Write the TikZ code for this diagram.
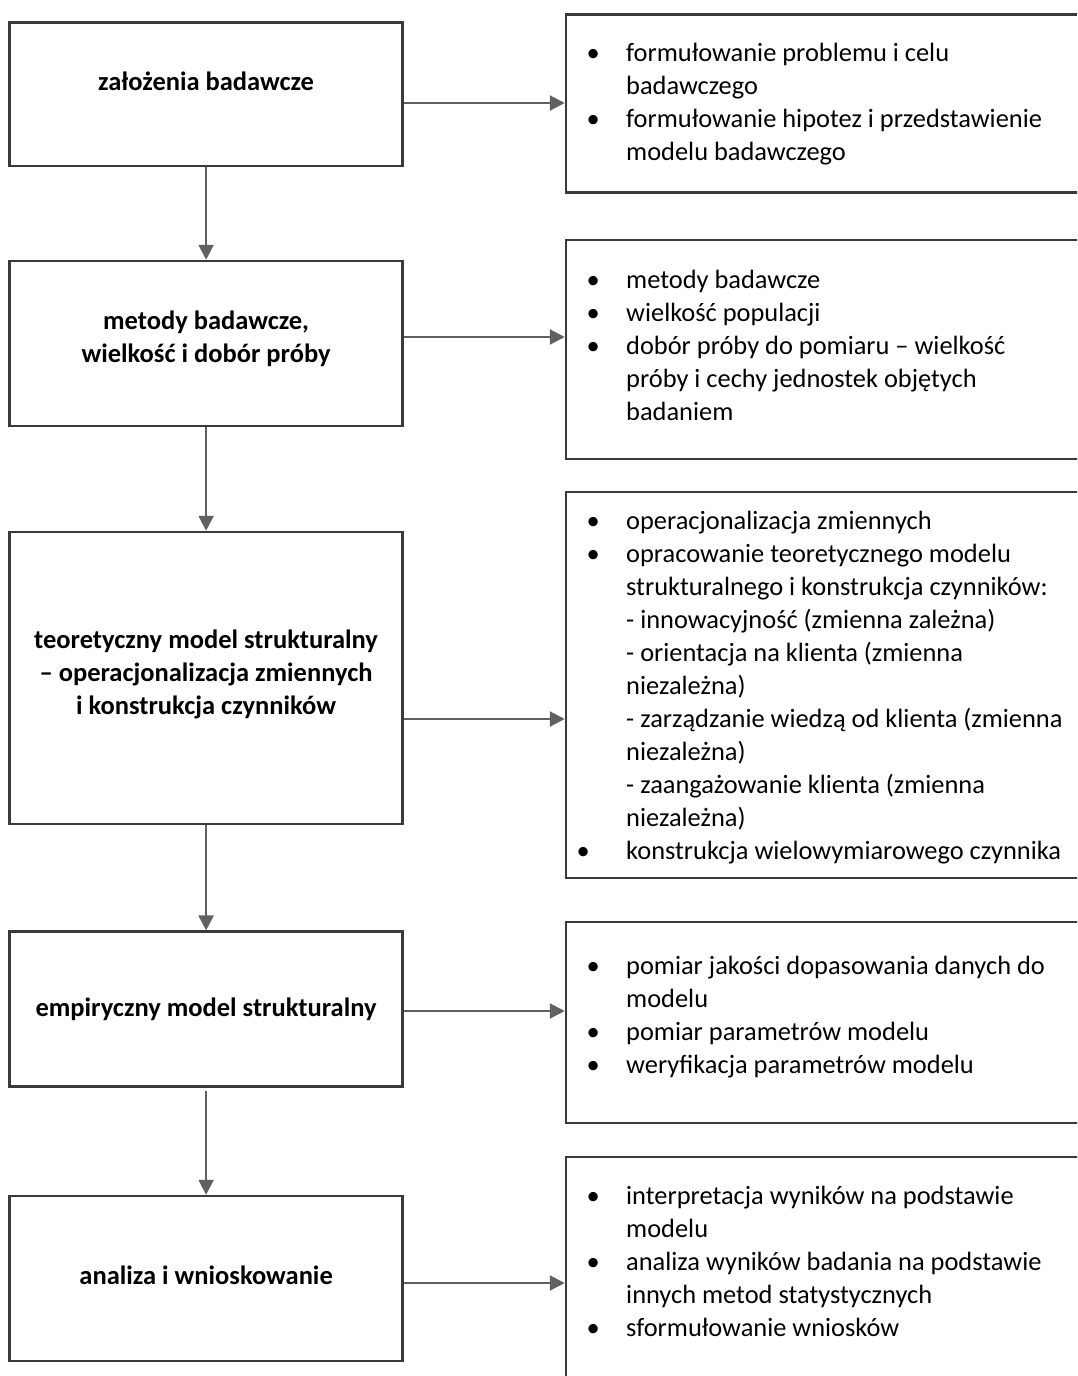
\documentclass[tikz,border=0pt]{standalone}
\usepackage{fontspec}
\setmainfont{Carlito}
\usetikzlibrary{arrows.meta}

\definecolor{boxline}{HTML}{3A3A3A}
\definecolor{arrowline}{HTML}{606060}

% one bulleted line, one wrapped line, a wider-set bullet
\newcommand\bitem[1]{\hbox{\llap{\makebox[66pt]{\textbullet}}#1}}
\newcommand\bitemw[1]{\hbox{\llap{\makebox[86pt]{\textbullet}}#1}}
\newcommand\bcont[1]{\hbox{#1}}
% stacks of lines whose baseline is that of the first line
\newcommand\textlines[1]{\vtop{\baselineskip=33pt #1}}
\newcommand\centerlines[1]{\vtop{\baselineskip=33pt\halign{\hfil##\hfil\cr#1}}}

\tikzset{
  lbox/.style={draw=boxline, line width=2.5pt, inner sep=0pt, minimum width=393pt},
  rbox/.style={draw=boxline, line width=2.5pt, inner sep=0pt, minimum width=524pt},
  ltext/.style={inner sep=0pt, anchor=base, font=\bfseries\fontsize{26.5}{33}\selectfont},
  rtext/.style={inner sep=0pt, anchor=base west, font=\fontsize{26.4}{33}\selectfont},
  flow/.style={draw=arrowline, line width=2.2pt, -{Triangle[length=15pt,width=15pt]}}
}

\begin{document}
\begin{tikzpicture}[x=1pt,y=-1pt]
\useasboundingbox (0,0) rectangle (1077,1376);
\clip (0,0) rectangle (1077,1376);

% stages on the left
\node[lbox, minimum height=143.3pt] (L1) at (206.1,94.35) {};
\node[lbox, minimum height=165pt]   (L2) at (206.1,343.5) {};
\node[lbox, minimum height=292pt]   (L3) at (206.1,678) {};
\node[lbox, minimum height=155pt]   (L4) at (206.1,1009.2) {};
\node[lbox, minimum height=165pt]   (L5) at (206.1,1278.5) {};

\node[ltext] (L1t) at (206.1,90) {\centerlines{założenia badawcze\cr}};
\node[ltext] (L2t) at (206.1,329) {\centerlines{metody badawcze,\cr wielkość i dobór próby\cr}};
\node[ltext] (L3t) at (206.1,648) {\centerlines{teoretyczny model strukturalny\cr – operacjonalizacja zmiennych\cr i konstrukcja czynników\cr}};
\node[ltext] (L4t) at (206.1,1016) {\centerlines{empiryczny model strukturalny\cr}};
\node[ltext] (L5t) at (206.1,1284) {\centerlines{analiza i wnioskowanie\cr}};

% details on the right (running past the right edge)
\node[rbox, minimum height=178.4pt] (R1) at (828,103.5) {};
\node[rbox, minimum height=219pt]   (R2) at (828,349.5) {};
\node[rbox, minimum height=386pt]   (R3) at (828,685) {};
\node[rbox, minimum height=201pt]   (R4) at (828,1022.5) {};
\node[rbox, minimum height=243pt]   (R5) at (828,1278.5) {};

\node[rtext] (R1t) at (626,61) {\textlines{%
  \bitem{formułowanie problemu i celu}
  \bcont{badawczego}
  \bitem{formułowanie hipotez i przedstawienie}
  \bcont{modelu badawczego}}};
\node[rtext] (R2t) at (626,288) {\textlines{%
  \bitem{metody badawcze}
  \bitem{wielkość populacji}
  \bitem{dobór próby do pomiaru – wielkość}
  \bcont{próby i cechy jednostek objętych}
  \bcont{badaniem}}};
\node[rtext] (R3t) at (626,529) {\textlines{%
  \bitem{operacjonalizacja zmiennych}
  \bitem{opracowanie teoretycznego modelu}
  \bcont{strukturalnego i konstrukcja czynników:}
  \bcont{- innowacyjność (zmienna zależna)}
  \bcont{- orientacja na klienta (zmienna}
  \bcont{niezależna)}
  \bcont{- zarządzanie wiedzą od klienta (zmienna}
  \bcont{niezależna)}
  \bcont{- zaangażowanie klienta (zmienna}
  \bcont{niezależna)}
  \bitemw{konstrukcja wielowymiarowego czynnika}}};
\node[rtext] (R4t) at (626,974) {\textlines{%
  \bitem{pomiar jakości dopasowania danych do}
  \bcont{modelu}
  \bitem{pomiar parametrów modelu}
  \bitem{weryfikacja parametrów modelu}}};
\node[rtext] (R5t) at (626,1204) {\textlines{%
  \bitem{interpretacja wyników na podstawie}
  \bcont{modelu}
  \bitem{analiza wyników badania na podstawie}
  \bcont{innych metod statystycznych}
  \bitem{sformułowanie wniosków}}};

% downward flow
\draw[flow] (L1.south) -- (L2.north);
\draw[flow] (L2.south) -- (L3.north);
\draw[flow] (L3.south) -- (L4.north);
\draw[flow, shorten <=3.5pt] (L4.south) -- (L5.north);

% links to the details
\draw[flow] (L1.east |- 0,103)  -- (R1.west |- 0,103);
\draw[flow] (L2.east |- 0,337)  -- (R2.west |- 0,337);
\draw[flow] (L3.east |- 0,719)  -- (R3.west |- 0,719);
\draw[flow] (L4.east |- 0,1011) -- (R4.west |- 0,1011);
\draw[flow] (L5.east |- 0,1283) -- (R5.west |- 0,1283);
\end{tikzpicture}
\end{document}
